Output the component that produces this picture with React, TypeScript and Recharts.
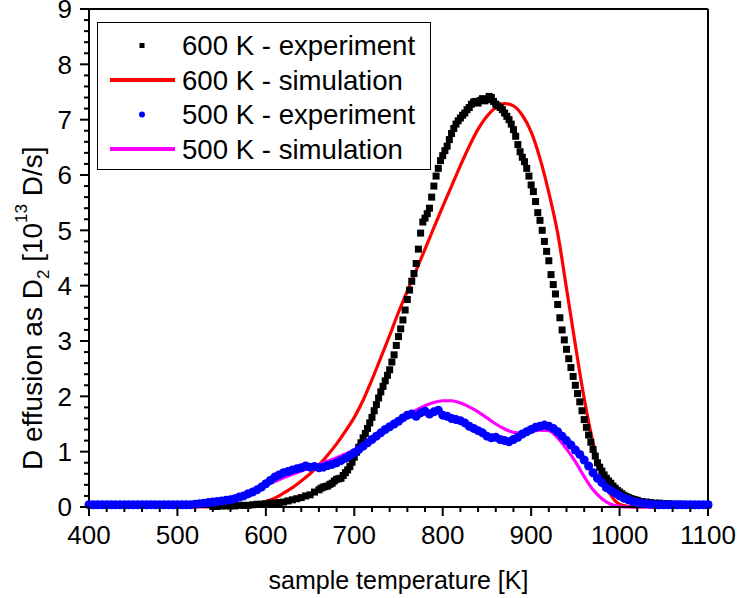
import { ComposedChart, Legend, Line, Scatter, XAxis, YAxis } from "recharts";

const FONT = "'Liberation Sans', Arial, Helvetica, sans-serif";

const COLORS = {
  exp600: "#000000",
  sim600: "#ff0000",
  exp500: "#0000ff",
  sim500: "#ff00ff",
  axis: "#000000",
};

// 600 K experiment: onset every 5 K (540-655 K)
const EXP600_LOW_T0 = 540;
const EXP600_LOW_Y = [
  0.01, 0.01, 0.02, 0.02, 0.02, 0.02, 0.03, 0.03, 0.03, 0.04,
  0.05, 0.05, 0.06, 0.07, 0.07, 0.08, 0.09, 0.11, 0.13, 0.15,
  0.17, 0.2, 0.22, 0.27,
];

// 600 K experiment: main peak every 2.5 K (660-1020 K)
const EXP600_PEAK_T0 = 660;
const EXP600_PEAK_Y = [
  // 660 - 697.5
  0.31, 0.34, 0.36, 0.37, 0.38, 0.41, 0.43, 0.47, 0.5, 0.51, 0.52, 0.57, 0.62, 0.67, 0.73, 0.81,
  // 700 - 747.5
  0.9, 0.99, 1.08, 1.16, 1.25, 1.33, 1.42, 1.52, 1.62, 1.74,
  1.85, 1.97, 2.08, 2.18, 2.28, 2.38, 2.48, 2.62, 2.75, 2.92,
  // 750 - 797.5
  3.08, 3.22, 3.38, 3.56, 3.75, 3.92, 4.08, 4.22, 4.4, 4.66,
  4.95, 5.15, 5.22, 5.3, 5.4, 5.6, 5.8, 5.98, 6.12, 6.26,
  // 800 - 847.5
  6.35, 6.44, 6.52, 6.64, 6.75, 6.84, 6.92, 6.98, 7.03, 7.08,
  7.12, 7.18, 7.22, 7.28, 7.32, 7.33, 7.3, 7.35, 7.38, 7.34,
  // 850 - 897.5
  7.36, 7.42, 7.4, 7.33, 7.28, 7.25, 7.22, 7.18, 7.12, 7.06,
  7.0, 6.92, 6.82, 6.7, 6.55, 6.42, 6.32, 6.24, 6.12, 5.98,
  // 900 - 947.5
  5.82, 5.7, 5.52, 5.32, 5.18, 5.0, 4.8, 4.62, 4.45, 4.2,
  4.02, 3.85, 3.66, 3.42, 3.2, 3.02, 2.85, 2.68, 2.52, 2.36,
  // 950 - 997.5
  2.2, 2.05, 1.9, 1.74, 1.58, 1.44, 1.3, 1.17, 1.04, 0.92,
  0.8, 0.72, 0.65, 0.58, 0.52, 0.47, 0.43, 0.38, 0.34, 0.3,
  // 1000 - 1020
  0.27, 0.24, 0.21, 0.19, 0.17, 0.155, 0.14, 0.13, 0.12,
];

// 600 K experiment: tail every 5 K (1025-1100 K)
const EXP600_TAIL_T0 = 1025;
const EXP600_TAIL_Y = [
  0.1, 0.09, 0.08, 0.07, 0.07, 0.06, 0.06, 0.05, 0.05, 0.05,
  0.04, 0.04, 0.04, 0.04, 0.04, 0.04,
];

// 500 K experiment, every 5 K from 400 K
const EXP500_T0 = 400;
const EXP500_Y = [
  0.04, 0.04, 0.04, 0.04, 0.04, 0.04, 0.04, 0.04, 0.04, 0.04,
  0.04, 0.04, 0.04, 0.04, 0.04, 0.04, 0.04, 0.04, 0.04, 0.04,
  0.04, 0.04, 0.04, 0.04, 0.05, 0.06, 0.07, 0.08, 0.09, 0.1,
  0.11, 0.12, 0.13, 0.15, 0.18, 0.2, 0.24, 0.27, 0.31, 0.36,
  0.42, 0.48, 0.54, 0.58, 0.62, 0.64, 0.67, 0.69, 0.71, 0.74,
  0.72, 0.73, 0.71, 0.72, 0.75, 0.77, 0.8, 0.84, 0.88, 0.93,
  0.98, 1.04, 1.1, 1.16, 1.22, 1.28, 1.34, 1.4, 1.45, 1.5,
  1.55, 1.61, 1.66, 1.68, 1.64, 1.7, 1.73, 1.68, 1.72, 1.75,
  1.66, 1.64, 1.6, 1.58, 1.56, 1.52, 1.46, 1.42, 1.38, 1.34,
  1.28, 1.25, 1.26, 1.22, 1.2, 1.18, 1.22, 1.26, 1.32, 1.36,
  1.4, 1.44, 1.46, 1.48, 1.46, 1.42, 1.36, 1.28, 1.2, 1.12,
  1.03, 0.95, 0.85, 0.74, 0.62, 0.52, 0.44, 0.35, 0.3, 0.25,
  0.2, 0.16, 0.13, 0.1, 0.08, 0.07, 0.06, 0.05, 0.04, 0.04,
  0.04, 0.04, 0.04, 0.04, 0.04, 0.04, 0.04, 0.04, 0.04, 0.04,
  0.04,
];

// simulations: [temperature K, value]
const SIM600: [number, number][] = [
  [400, 0], [540, 0], [550, 0.005], [560, 0.01], [570, 0.03], [580, 0.05],
  [590, 0.07], [600, 0.1], [610, 0.16], [620, 0.25], [630, 0.35], [640, 0.47],
  [650, 0.6], [660, 0.76], [670, 0.94], [680, 1.14], [690, 1.37], [700, 1.62],
  [710, 1.93], [720, 2.3], [730, 2.7], [740, 3.1], [750, 3.52], [760, 3.9],
  [770, 4.28], [780, 4.66], [790, 5.05], [800, 5.43], [810, 5.8], [820, 6.17],
  [830, 6.52], [840, 6.83], [850, 7.06], [860, 7.22], [870, 7.29], [880, 7.25],
  [890, 7.08], [900, 6.78], [910, 6.3], [920, 5.68], [930, 4.95], [940, 3.95],
  [950, 2.93], [960, 1.96], [970, 1.16], [980, 0.58], [990, 0.22], [1000, 0.05],
  [1010, 0.01], [1020, 0], [1100, 0],
];

const SIM500: [number, number][] = [
  [400, 0], [500, 0], [510, 0.01], [520, 0.03], [530, 0.06], [540, 0.09],
  [550, 0.13], [560, 0.17], [570, 0.22], [580, 0.27], [590, 0.33], [600, 0.39],
  [610, 0.46], [620, 0.53], [630, 0.59], [640, 0.65], [650, 0.71], [660, 0.77],
  [670, 0.83], [680, 0.89], [690, 0.96], [700, 1.03], [710, 1.11], [720, 1.2],
  [730, 1.31], [740, 1.42], [750, 1.53], [760, 1.65], [770, 1.75], [780, 1.83],
  [790, 1.89], [800, 1.92], [810, 1.92], [820, 1.88], [830, 1.81], [840, 1.72],
  [850, 1.61], [860, 1.5], [870, 1.41], [880, 1.35], [890, 1.34], [900, 1.36],
  [910, 1.39], [920, 1.38], [930, 1.25], [940, 1.05], [950, 0.82], [960, 0.55],
  [970, 0.31], [980, 0.15], [990, 0.05], [1000, 0.01], [1010, 0], [1100, 0],
];

const X_DOMAIN = [400, 1100];
const Y_DOMAIN = [0, 9];
const X_TICKS = Array.from({ length: 36 }, (_, i) => 400 + i * 20);
const Y_TICKS = Array.from({ length: 46 }, (_, i) => (i * 2) / 10);

const LEGEND_ITEMS = [
  { label: "600 K - experiment", kind: "square", color: COLORS.exp600 },
  { label: "600 K - simulation", kind: "line", color: COLORS.sim600 },
  { label: "500 K - experiment", kind: "circle", color: COLORS.exp500 },
  { label: "500 K - simulation", kind: "line", color: COLORS.sim500 },
];

const toPoints = (values: number[], t0: number, step: number) =>
  values.map((v, i) => ({ t: t0 + i * step, v }));

const exp600 = [
  ...toPoints(EXP600_LOW_Y, EXP600_LOW_T0, 5),
  ...toPoints(EXP600_PEAK_Y, EXP600_PEAK_T0, 2.5),
  ...toPoints(EXP600_TAIL_Y, EXP600_TAIL_T0, 5),
];
const exp500 = toPoints(EXP500_Y, EXP500_T0, 5);
const sim600 = SIM600.map(([t, v]) => ({ t, v }));
const sim500 = SIM500.map(([t, v]) => ({ t, v }));

const isMajorX = (v: number) => v % 100 === 0;
const isMajorY = (v: number) => Math.abs(v - Math.round(v)) < 1e-6;

function BottomTick({ x, y, payload }: any) {
  const major = isMajorX(payload.value);
  return (
    <g>
      <line x1={x} x2={x} y1={y} y2={y + (major ? 9 : 5)} stroke={COLORS.axis} strokeWidth={2} />
      {major && (
        <text x={x} y={y + 37} textAnchor="middle" fontSize={26} fontFamily={FONT} fill="#000">
          {payload.value}
        </text>
      )}
    </g>
  );
}

function TopTick({ x, y, payload }: any) {
  const major = isMajorX(payload.value);
  return <line x1={x} x2={x} y1={y} y2={y + (major ? 9 : 5)} stroke={COLORS.axis} strokeWidth={2} />;
}

function LeftTick({ x, y, payload }: any) {
  const major = isMajorY(payload.value);
  return (
    <g>
      <line x1={x - (major ? 9 : 5)} x2={x} y1={y} y2={y} stroke={COLORS.axis} strokeWidth={2} />
      {major && (
        <text x={x - 17} y={y} dy="0.36em" textAnchor="end" fontSize={26} fontFamily={FONT} fill="#000">
          {Math.round(payload.value)}
        </text>
      )}
    </g>
  );
}

function RightTick({ x, y, payload }: any) {
  const major = isMajorY(payload.value);
  return <line x1={x - (major ? 9 : 5)} x2={x} y1={y} y2={y} stroke={COLORS.axis} strokeWidth={2} />;
}

function YTitle({ viewBox }: any) {
  const cx = (viewBox?.x ?? 0) + 42;
  const cy = 470;
  return (
    <text
      x={cx}
      y={cy}
      transform={`rotate(-90, ${cx}, ${cy})`}
      textAnchor="start"
      fontSize={28}
      fontFamily={FONT}
      fill="#000"
    >
      D effusion as D
      <tspan fontSize={17} dy={7}>2</tspan>
      <tspan dy={-7}> [10</tspan>
      <tspan fontSize={17} dy={-15}>13</tspan>
      <tspan dy={15}> D/s]</tspan>
    </text>
  );
}

const SquareDot = ({ cx, cy }: any) => (
  <rect x={cx - 3.5} y={cy - 3.5} width={7} height={7} fill={COLORS.exp600} />
);

const RoundDot = ({ cx, cy }: any) => <circle cx={cx} cy={cy} r={4.5} fill={COLORS.exp500} />;

function LegendBox() {
  return (
    <svg width={334} height={148} style={{ display: "block" }}>
      <rect x={0.5} y={0.5} width={333} height={147} fill="#fff" stroke="#000" strokeWidth={1} />
      {LEGEND_ITEMS.map((item, i) => {
        const cy = 23.5 + i * 34.5;
        return (
          <g key={item.label}>
            {item.kind === "line" && (
              <line x1={13} x2={78} y1={cy} y2={cy} stroke={item.color} strokeWidth={4} />
            )}
            {item.kind === "square" && (
              <rect x={42.5} y={cy - 2.5} width={5} height={5} fill={item.color} />
            )}
            {item.kind === "circle" && <circle cx={45} cy={cy} r={3} fill={item.color} />}
            <text x={85} y={cy} dy="0.36em" fontSize={27.6} fontFamily={FONT} fill="#000">
              {item.label}
            </text>
          </g>
        );
      })}
    </svg>
  );
}

export default function App() {
  return (
    <div style={{ position: "absolute", left: 0, top: 0, background: "#fff" }}>
      <ComposedChart width={737} height={598} margin={{ top: 0, right: 0, bottom: 0, left: 0 }}>
        <XAxis
          xAxisId="b"
          type="number"
          dataKey="t"
          domain={X_DOMAIN}
          ticks={X_TICKS}
          interval={0}
          tick={<BottomTick />}
          tickLine={false}
          tickSize={0}
          tickMargin={0}
          height={91}
          axisLine={{ stroke: COLORS.axis, strokeWidth: 2 }}
          label={{
            value: "sample temperature [K]",
            position: "insideBottom",
            offset: 9,
            fontSize: 25,
            fontFamily: FONT,
            fill: "#000",
          }}
        />
        <XAxis
          xAxisId="top"
          orientation="top"
          type="number"
          dataKey="t"
          domain={X_DOMAIN}
          ticks={X_TICKS}
          interval={0}
          tick={<TopTick />}
          tickLine={false}
          tickSize={0}
          tickMargin={0}
          height={9}
          axisLine={{ stroke: COLORS.axis, strokeWidth: 2 }}
        />
        <YAxis
          yAxisId="l"
          type="number"
          domain={Y_DOMAIN}
          ticks={Y_TICKS}
          interval={0}
          tick={<LeftTick />}
          tickLine={false}
          tickSize={0}
          tickMargin={0}
          width={89}
          axisLine={{ stroke: COLORS.axis, strokeWidth: 2 }}
          label={<YTitle />}
        />
        <YAxis
          yAxisId="r"
          orientation="right"
          type="number"
          domain={Y_DOMAIN}
          ticks={Y_TICKS}
          interval={0}
          tick={<RightTick />}
          tickLine={false}
          tickSize={0}
          tickMargin={0}
          width={29}
          axisLine={{ stroke: COLORS.axis, strokeWidth: 2 }}
        />
        <Legend
          layout="vertical"
          align="center"
          verticalAlign="middle"
          content={<LegendBox />}
          wrapperStyle={{ left: 97, top: 22, width: 334, height: 148 }}
        />
        <Scatter
          name="600 K - experiment"
          data={exp600}
          dataKey="v"
          xAxisId="b"
          yAxisId="l"
          shape={<SquareDot />}
          isAnimationActive={false}
        />
        <Line
          name="600 K - simulation"
          data={sim600}
          dataKey="v"
          xAxisId="b"
          yAxisId="l"
          type="monotone"
          stroke={COLORS.sim600}
          strokeWidth={3.2}
          dot={false}
          isAnimationActive={false}
        />
        <Scatter
          name="500 K - experiment"
          data={exp500}
          dataKey="v"
          xAxisId="b"
          yAxisId="l"
          shape={<RoundDot />}
          isAnimationActive={false}
        />
        <Line
          name="500 K - simulation"
          data={sim500}
          dataKey="v"
          xAxisId="b"
          yAxisId="l"
          type="monotone"
          stroke={COLORS.sim500}
          strokeWidth={3.2}
          dot={false}
          isAnimationActive={false}
        />
      </ComposedChart>
    </div>
  );
}
